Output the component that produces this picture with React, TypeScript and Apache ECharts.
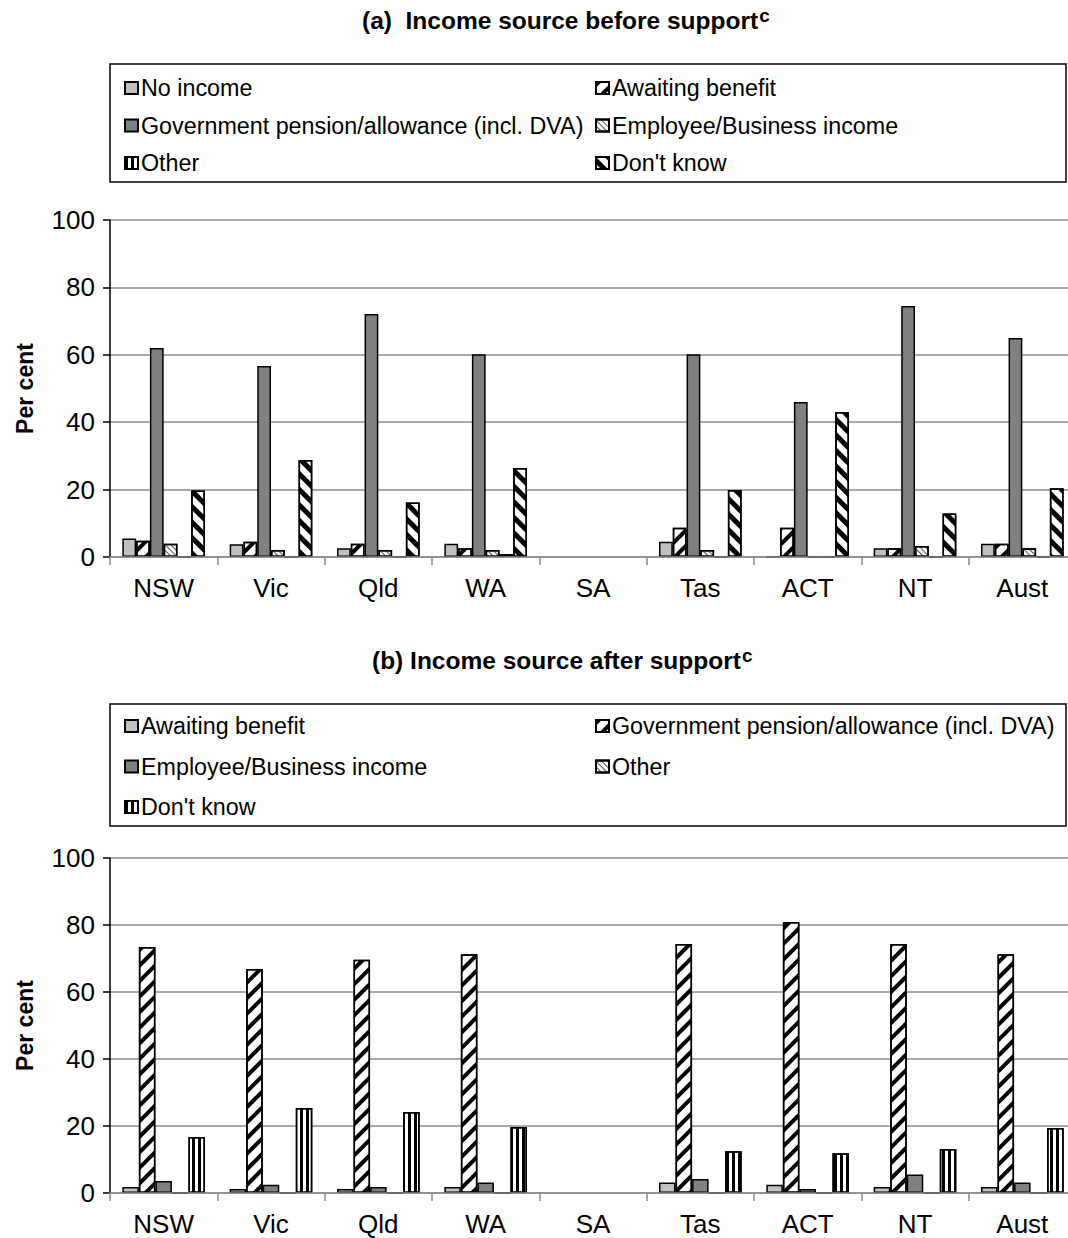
import React, { useEffect, useRef } from "react";
import * as echarts from "echarts";

const categories = ["NSW", "Vic", "Qld", "WA", "SA", "Tas", "ACT", "NT", "Aust"];
const yMin = 0;
const yMax = 100;
const yStep = 20;

// (a) Income source before support (per cent); SA not available
const beforeNoIncome = [5.5, 3.8, 2.6, 3.9, null, 4.5, 0, 2.6, 3.9];
const beforeAwaiting = [4.8, 4.5, 3.9, 2.6, null, 8.7, 8.7, 2.6, 3.9];
const beforeGovt = [62, 56.7, 72.1, 60.2, null, 60.2, 46, 74.5, 65];
const beforeEmployee = [3.9, 2.1, 2.1, 2.1, null, 2.1, 0, 3.3, 2.6];
const beforeOther = [0, 0, 0, 0.9, null, 0, 0, 0, 0];
const beforeDontKnow = [19.7, 28.8, 16.2, 26.4, null, 19.9, 43, 12.9, 20.4];

// (b) Income source after support (per cent); SA not available
const afterAwaiting = [1.8, 1.2, 1.2, 1.8, null, 3.1, 2.5, 1.8, 1.8];
const afterGovt = [73.4, 66.9, 69.6, 71.3, null, 74.3, 80.9, 74.3, 71.3];
const afterEmployee = [3.6, 2.5, 1.8, 3.1, null, 4.2, 1.2, 5.5, 3.1];
const afterOther = [0, 0, 0, 0, null, 0, 0, 0, 0];
const afterDontKnow = [16.7, 25.4, 24.2, 19.7, null, 12.5, 11.9, 13.1, 19.4];

const FONT = "'Liberation Sans', Arial, Helvetica, sans-serif";

const decalFwd = {
  symbol: "rect", symbolSize: 1, symbolKeepAspect: false, color: "#000",
  dashArrayX: [1, 0], dashArrayY: [4, 7], rotation: -Math.PI / 4,
};
const decalBack = {
  symbol: "rect", symbolSize: 1, symbolKeepAspect: false, color: "#000",
  dashArrayX: [1, 0], dashArrayY: [5, 6], rotation: Math.PI / 4,
};
const decalVert = {
  symbol: "rect", symbolSize: 1, symbolKeepAspect: false, color: "#000",
  dashArrayX: [2.5, 3], dashArrayY: [1, 0], rotation: 0,
};
const decalCross = {
  symbol: "rect", symbolSize: 1, symbolKeepAspect: false, color: "#555",
  dashArrayX: [1, 0], dashArrayY: [1, 3], rotation: Math.PI / 4,
};

type SeriesDef = { name: string; data: (number | null)[]; color: string; decal?: any };

function buildOption(
  titleMain: string,
  series: SeriesDef[],
  col1: string[],
  col2: string[],
  layout: { titleTop: number; titleLeft: number; boxTop: number; boxHeight: number; legendTop: number; legendGap: number; gridTop: number; gridHeight: number }
) {
  return {
    animation: false,
    backgroundColor: "#fff",
    title: {
      text: `{t|${titleMain}}{s|c}`,
      left: layout.titleLeft,
      top: layout.titleTop,
      padding: 0,
      textStyle: {
        rich: {
          t: { fontFamily: FONT, fontSize: 24.5, fontWeight: "bold", color: "#000", lineHeight: 28 },
          s: { fontFamily: FONT, fontSize: 19, fontWeight: "bold", color: "#000", lineHeight: 28, verticalAlign: "top", padding: [0, 0, 0, 1] },
        },
      },
    },
    graphic: [
      {
        type: "rect",
        shape: { x: 110, y: layout.boxTop, width: 956, height: layout.boxHeight },
        style: { fill: "none", stroke: "#000", lineWidth: 1.5 },
        silent: true,
      },
    ],
    legend: [col1, col2].map((names, i) => ({
      data: names,
      orient: "vertical",
      left: i === 0 ? 124 : 595,
      top: layout.legendTop,
      padding: 0,
      icon: "rect",
      itemWidth: 13,
      itemHeight: 12,
      itemGap: layout.legendGap,
      selectedMode: false,
      textStyle: { fontFamily: FONT, fontSize: 23.3, color: "#000", lineHeight: 24, padding: [0, 0, 0, -2] },
    })),
    grid: { left: 110, top: layout.gridTop, width: 966, height: layout.gridHeight, containLabel: false },
    xAxis: {
      type: "category",
      data: categories,
      z: 3,
      axisLine: { show: true, lineStyle: { color: "#8c8c8c", width: 1.5 } },
      axisTick: { show: true, interval: 0, length: 8, lineStyle: { color: "#8c8c8c", width: 1.5 } },
      axisLabel: { fontFamily: FONT, fontSize: 26, color: "#000", margin: 18, interval: 0 },
      splitLine: { show: false },
    },
    yAxis: {
      type: "value",
      min: yMin,
      max: yMax,
      interval: yStep,
      name: "Per cent",
      nameLocation: "middle",
      nameGap: 74,
      nameTextStyle: { fontFamily: FONT, fontSize: 23, fontWeight: "bold", color: "#000" },
      axisLine: { show: true, lineStyle: { color: "#000", width: 1.5 } },
      axisTick: { show: true, length: 7, lineStyle: { color: "#000", width: 1.5 } },
      axisLabel: { fontFamily: FONT, fontSize: 26, color: "#000", margin: 15 },
      splitLine: { show: true, lineStyle: { color: "#8c8c8c", width: 1.5 } },
    },
    series: series.map((s) => ({
      name: s.name,
      type: "bar",
      data: s.data,
      barGap: 0,
      barCategoryGap: "23%",
      itemStyle: {
        color: s.color,
        borderColor: "#000",
        borderWidth: 1.5,
        ...(s.decal ? { decal: s.decal } : {}),
      },
    })),
  };
}

function ChartBox({ option, height }: { option: any; height: number }) {
  const ref = useRef<HTMLDivElement>(null);
  useEffect(() => {
    if (!ref.current) return;
    const chart = echarts.init(ref.current, undefined, { renderer: "svg" });
    chart.setOption(option);
    return () => chart.dispose();
  }, [option]);
  return <div ref={ref} style={{ width: 1090, height }} />;
}

const N_NO = "No income";
const N_AW = "Awaiting benefit";
const N_GOV = "Government pension/allowance (incl. DVA)";
const N_EMP = "Employee/Business income";
const N_OTH = "Other";
const N_DK = "Don't know";

const optionA = buildOption(
  "(a)  Income source before support",
  [
    { name: N_NO, data: beforeNoIncome, color: "#c0c0c0" },
    { name: N_AW, data: beforeAwaiting, color: "#fff", decal: decalFwd },
    { name: N_GOV, data: beforeGovt, color: "#808080" },
    { name: N_EMP, data: beforeEmployee, color: "#fff", decal: decalCross },
    { name: N_OTH, data: beforeOther, color: "#fff", decal: decalVert },
    { name: N_DK, data: beforeDontKnow, color: "#fff", decal: decalBack },
  ],
  [N_NO, N_GOV, N_OTH],
  [N_AW, N_EMP, N_DK],
  { titleTop: 6, titleLeft: 362, boxTop: 64, boxHeight: 118, legendTop: 76, legendGap: 13.5, gridTop: 220, gridHeight: 337 }
);

const optionB = buildOption(
  "(b) Income source after support",
  [
    { name: N_AW, data: afterAwaiting, color: "#c0c0c0" },
    { name: N_GOV, data: afterGovt, color: "#fff", decal: decalFwd },
    { name: N_EMP, data: afterEmployee, color: "#808080" },
    { name: N_OTH, data: afterOther, color: "#fff", decal: decalCross },
    { name: N_DK, data: afterDontKnow, color: "#fff", decal: decalVert },
  ],
  [N_AW, N_EMP, N_DK],
  [N_GOV, N_OTH],
  { titleTop: 26, titleLeft: 372, boxTop: 84, boxHeight: 122, legendTop: 94, legendGap: 16.5, gridTop: 238, gridHeight: 335 }
);

export default function App() {
  return (
    <div style={{ position: "absolute", left: 0, top: 0, width: 1068, height: 1238, overflow: "hidden", background: "#fff" }}>
      <ChartBox option={optionA} height={620} />
      <ChartBox option={optionB} height={618} />
    </div>
  );
}
